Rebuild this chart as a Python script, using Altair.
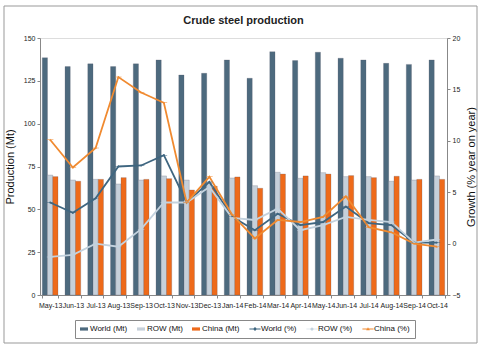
import altair as alt
import pandas as pd

months = ["May-13", "Jun-13", "Jul-13", "Aug-13", "Sep-13", "Oct-13", "Nov-13", "Dec-13",
          "Jan-14", "Feb-14", "Mar-14", "Apr-14", "May-14", "Jun-14", "Jul-14", "Aug-14",
          "Sep-14", "Oct-14"]
world_mt = [138.5, 133.3, 134.9, 133.3, 134.9, 137.2, 128.4, 129.4, 137.2, 126.5,
            142.0, 136.8, 141.7, 138.2, 137.2, 135.2, 134.6, 137.2]
row_mt = [70.0, 67.1, 67.5, 64.8, 67.1, 69.5, 67.1, 65.5, 68.3, 63.8,
          71.6, 68.1, 71.4, 69.1, 69.1, 66.4, 67.1, 69.5]
china_mt = [69.1, 66.4, 67.5, 68.5, 67.5, 67.9, 61.3, 63.5, 68.9, 62.3,
            70.6, 69.5, 70.6, 69.7, 68.5, 69.3, 67.5, 67.5]
world_pct = [4.0, 3.0, 4.4, 7.5, 7.6, 8.6, 4.0, 6.0, 2.6, 1.3,
             2.9, 1.8, 2.1, 3.6, 2.0, 1.8, 0.1, 0.1]
row_pct = [-1.3, -1.1, 0.0, -0.3, 1.4, 4.0, 4.0, 5.5, 2.5, 2.3,
           3.4, 1.3, 1.8, 2.6, 2.3, 2.1, 0.1, 0.4]
china_pct = [10.1, 7.4, 9.3, 16.2, 14.7, 13.7, 4.0, 6.5, 2.8, 0.5,
             2.3, 2.1, 2.6, 4.6, 1.6, 1.1, 0.0, -0.3]

bar_series = ["World (Mt)", "ROW (Mt)", "China (Mt)"]
line_series = ["World (%)", "ROW (%)", "China (%)"]
all_series = bar_series + line_series
colors = ["#4d6a7e", "#c6d0da", "#ee6a1a", "#3f6680", "#c3d2de", "#f08a30"]

bar_path = "M-1,-0.4H1V0.4H-1Z"
shapes = [
    bar_path, bar_path, bar_path,
    "M-1.4,-0.1H1.4V0.1H-1.4Z M0,-0.5L0.5,0L0,0.5L-0.5,0Z",
    "M-1.4,-0.08H1.4V0.08H-1.4Z M0.4,0A0.4,0.4 0 1,1 -0.4,0A0.4,0.4 0 1,1 0.4,0Z",
    "M-1.4,-0.1H1.4V0.1H-1.4Z M0,-0.45L0.45,0.3L-0.45,0.3Z",
]

bars = pd.DataFrame(
    [(m, s, v) for s, vals in zip(bar_series, [world_mt, row_mt, china_mt])
     for m, v in zip(months, vals)],
    columns=["Month", "Series", "Value"])
lines = pd.DataFrame(
    [(m, s, v) for s, vals in zip(line_series, [world_pct, row_pct, china_pct])
     for m, v in zip(months, vals)],
    columns=["Month", "Series", "Value"])

FONT = "Liberation Sans"
xscale = alt.Scale(paddingInner=0.31, paddingOuter=0.1)
x_enc = alt.X("Month:N", sort=months, scale=xscale,
              axis=alt.Axis(title=None, labelAngle=0, labelFontSize=7, labelFont=FONT,
                            labelColor="#222", tickSize=3, tickBand="extent",
                            domainColor="#888", tickColor="#888", labelPadding=3))
color_enc = alt.Color("Series:N", scale=alt.Scale(domain=all_series, range=colors),
                      legend=alt.Legend(title=None, orient="none", legendX=35, legendY=282,
                                        direction="horizontal",
                                        columns=6, labelFontSize=8, labelFont=FONT,
                                        labelColor="#111", symbolSize=64,
                                        symbolStrokeWidth=0, columnPadding=9,
                                        labelOffset=2, strokeColor="#888",
                                        padding=5))

bar_layer = alt.Chart(bars).mark_bar(stroke="#556", strokeWidth=0.4, strokeOpacity=0.6).encode(
    x=x_enc,
    xOffset=alt.XOffset("Series:N", sort=bar_series, scale=alt.Scale(paddingInner=0)),
    y=alt.Y("Value:Q", scale=alt.Scale(domain=[0, 150], nice=False),
            axis=alt.Axis(title="Production (Mt)", values=[0, 25, 50, 75, 100, 125, 150],
                          labelFontSize=7, labelFont=FONT, labelColor="#222", tickSize=3,
                          grid=False, domainColor="#888", tickColor="#888",
                          titleFontSize=11, titleFont=FONT, titleFontWeight="normal",
                          titleColor="#111", titlePadding=8)),
    color=color_enc,
)

y_right = alt.Y("Value:Q", scale=alt.Scale(domain=[-5, 20], nice=False),
                axis=alt.Axis(orient="right", title="Growth (% year on year)",
                              values=[-5, 0, 5, 10, 15, 20], labelFontSize=7, labelFont=FONT,
                              labelColor="#222", tickSize=3, grid=False, domainColor="#888",
                              tickColor="#888", titleFontSize=11, titleFont=FONT,
                              titleFontWeight="normal", titleColor="#111", titlePadding=6,
                              titleAngle=270, titleBaseline="top"))

line_layer = alt.Chart(lines).mark_line(strokeWidth=1.8).encode(
    x=alt.X("Month:N", sort=months, scale=xscale),
    y=y_right,
    color=alt.Color("Series:N"),
    detail="Series:N",
)
point_layer = alt.Chart(lines).mark_point(filled=True, size=22, opacity=1).encode(
    x=alt.X("Month:N", sort=months, scale=xscale),
    y=y_right,
    color=alt.Color("Series:N"),
    shape=alt.Shape("Series:N", scale=alt.Scale(domain=all_series, range=shapes)),
)

frame = alt.Chart(pd.DataFrame({"a": [0]})).mark_rect(filled=False, stroke="#999",
                                                      strokeWidth=1).encode(
    x=alt.value(-36), x2=alt.value(437), y=alt.value(-32), y2=alt.value(305))

right = alt.layer(line_layer, point_layer)
chart = alt.layer(frame, bar_layer, right).resolve_scale(y="independent").properties(
    width=407, height=257,
    title=alt.TitleParams("Crude steel production", fontSize=11, fontWeight="bold",
                          font=FONT, color="#222", offset=-20, anchor="middle"),
    autosize=alt.AutoSizeParams(type="none"),
    padding={"left": 40, "top": 38, "right": 35, "bottom": 56},
).configure_view(stroke="#999", strokeWidth=1).configure(background="white")

chart.save("out.html", embed_options={"renderer": "svg", "actions": False})
